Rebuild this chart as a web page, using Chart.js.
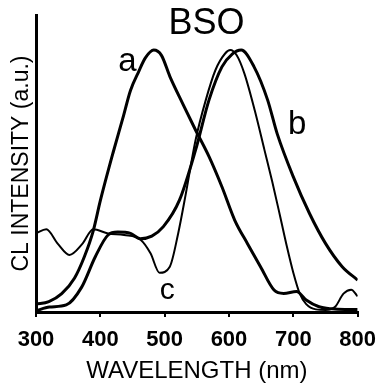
<!DOCTYPE html>
<html>
<head>
<meta charset="utf-8">
<script src="https://cdn.jsdelivr.net/npm/chart.js@4/dist/chart.umd.min.js"></script>
<style>
  html, body { margin: 0; padding: 0; background: #fff; }
  #wrap { width: 386px; height: 383px; }
</style>
</head>
<body>
<div id="wrap"><canvas id="bsoChart" width="386" height="383"></canvas></div>
<script>
'use strict';

// curve a
var waveA = [300, 320, 340, 360, 375, 389, 400, 420, 435, 447, 460, 470, 483, 495, 508, 528, 548, 569, 589, 609, 629, 649, 670, 685, 705, 720, 740, 760, 780, 800];
var intA  = [3, 4, 7, 13, 21, 31, 42.5, 61, 74, 84.7, 92, 97, 100, 98, 90, 79.6, 69.5, 59.3, 47.8, 35, 26, 17.3, 8.4, 7.1, 7.8, 4.6, 2, 1.2, 1, 1];

// curve b
var waveB = [300, 321, 347, 371, 392, 412, 427, 447, 462, 480, 498, 523, 548, 569, 589, 605, 619, 639, 660, 675, 700, 725, 750, 776, 800];
var intB  = [0.5, 1.9, 2.7, 9.5, 21, 29.4, 30.5, 30, 28, 29, 32.6, 42.7, 61.8, 81, 93.6, 98.5, 100, 93.6, 81, 68, 51.6, 37.7, 26.2, 17.3, 12.2];

// curve c
var waveC = [300, 316, 334, 352, 372, 389, 412, 437, 463, 478, 492, 508, 521, 533, 548, 564, 579, 594, 602, 612, 624, 640, 655, 667, 680, 690, 700, 710, 720, 735, 750, 765, 778, 790, 800];
var intC  = [30, 31.6, 26, 21.8, 26, 31.6, 30, 29.4, 27.5, 22.4, 15, 17.3, 30, 45.3, 65.6, 81, 92.4, 98.7, 100, 98, 91, 77, 62, 50, 36, 25, 15, 7, 3, 1, 0.8, 2, 7, 8.5, 6];

var xTicks = [300, 400, 500, 600, 700, 800];

var curveLabels = ['a', 'b', 'c'];
var curveLabelX = [442, 706, 504];
var curveLabelY = [95.4, 71.4, 8];

function pts(xs, ys) {
  return xs.map(function (x, i) { return { x: x, y: ys[i] }; });
}

var textPlugin = {
  id: 'curveText',
  afterDatasetsDraw: function (chart) {
    var ctx = chart.ctx;
    var sx = chart.scales.x, sy = chart.scales.y;
    ctx.save();
    ctx.fillStyle = '#000';
    ctx.textAlign = 'center';
    ctx.textBaseline = 'middle';
    ctx.font = '36px "Liberation Sans", Arial, sans-serif';
    ctx.fillText('BSO', sx.getPixelForValue(565), sy.getPixelForValue(110));
    curveLabels.forEach(function (t, i) {
      ctx.font = (t === 'c' ? '30px' : '33px') + ' "Liberation Sans", Arial, sans-serif';
      ctx.fillText(t, sx.getPixelForValue(curveLabelX[i]), sy.getPixelForValue(curveLabelY[i]));
    });
    ctx.restore();
  }
};

var lineStyle = {
  pointRadius: 0,
  borderColor: '#000',
  fill: false,
  cubicInterpolationMode: 'monotone'
};

var ctx = document.getElementById('bsoChart').getContext('2d');
var chart = new Chart(ctx, {
  type: 'line',
  data: {
    datasets: [
      Object.assign({ label: 'a', data: pts(waveA, intA), borderWidth: 3 }, lineStyle),
      Object.assign({ label: 'b', data: pts(waveB, intB), borderWidth: 3 }, lineStyle),
      Object.assign({ label: 'c', data: pts(waveC, intC), borderWidth: 2 }, lineStyle)
    ]
  },
  options: {
    responsive: false,
    animation: false,
    layout: { padding: { top: 15, right: 20, left: 0, bottom: 0 } },
    plugins: {
      legend: { display: false },
      tooltip: { enabled: false }
    },
    scales: {
      x: {
        type: 'linear',
        min: 300,
        max: 800,
        afterFit: function (s) { s.height = 71; },
        afterBuildTicks: function (s) { s.ticks = xTicks.map(function (v) { return { value: v }; }); },
        grid: { display: true, drawOnChartArea: false, drawTicks: true, tickLength: 5, color: '#000', lineWidth: 2 },
        border: { display: true, color: '#000', width: 3 },
        ticks: {
          color: '#000',
          padding: 10,
          maxRotation: 0,
          font: { family: '"Liberation Sans", Arial, sans-serif', size: 22, weight: 'bold' }
        },
        title: {
          display: true,
          text: 'WAVELENGTH (nm)',
          color: '#000',
          padding: { top: 0, bottom: 0 },
          font: { family: '"Liberation Sans", Arial, sans-serif', size: 24, lineHeight: 1.0 }
        }
      },
      y: {
        min: 0,
        max: 113.4,
        afterFit: function (s) { s.width = 36; },
        grid: { display: false },
        border: { display: true, color: '#000', width: 3 },
        ticks: { display: false },
        title: {
          display: true,
          text: 'CL INTENSITY (a.u.)',
          color: '#000',
          padding: { top: 8, bottom: 0 },
          font: { family: '"Liberation Sans", Arial, sans-serif', size: 23 }
        }
      }
    }
  },
  plugins: [textPlugin]
});
</script>
</body>
</html>
